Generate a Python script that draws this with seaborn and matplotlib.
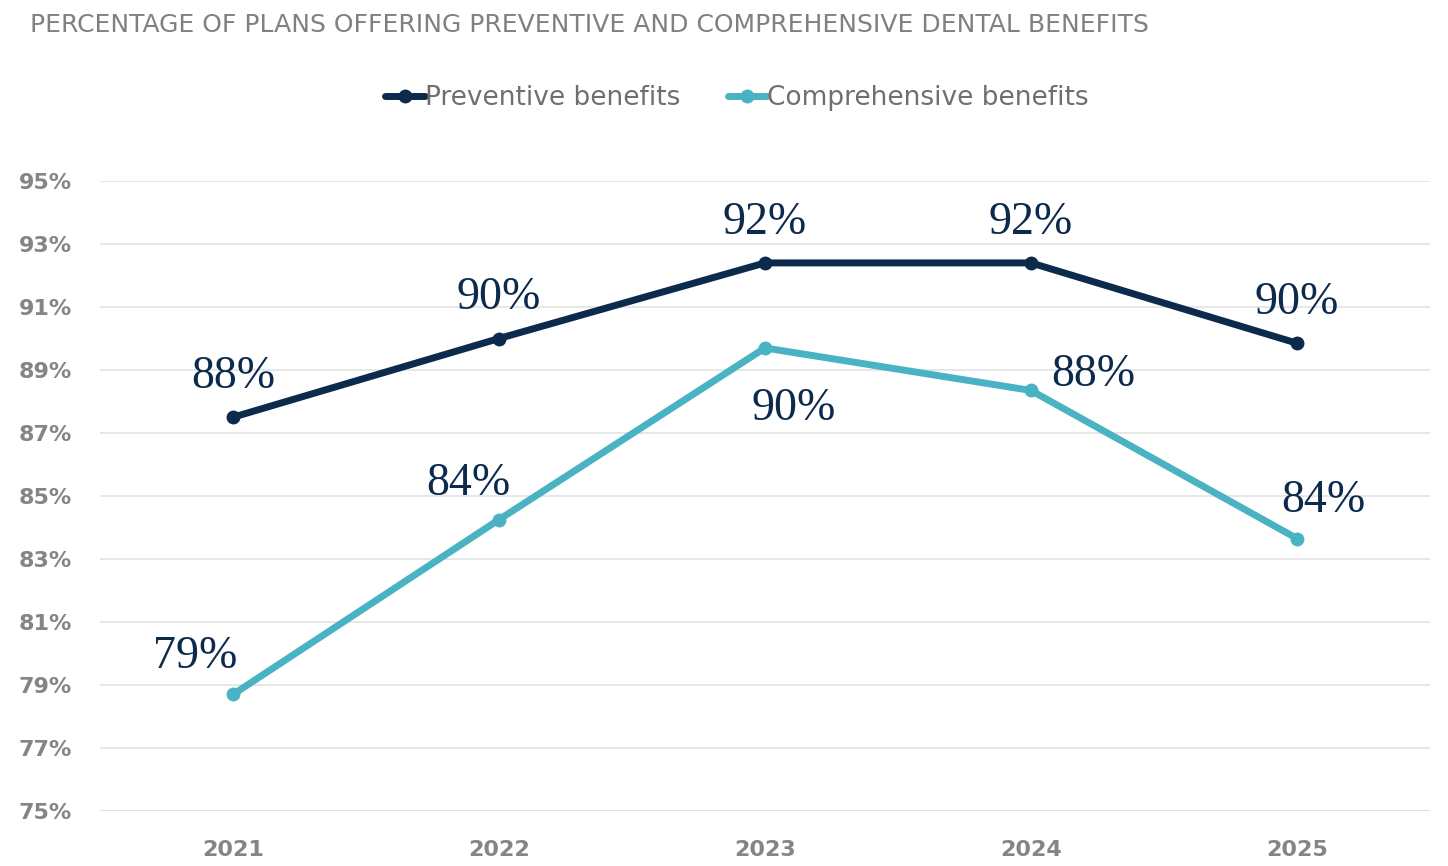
import pandas as pd
import seaborn as sns
import matplotlib.pyplot as plt
from matplotlib.lines import Line2D

# --- DATA ---
years = ["2021", "2022", "2023", "2024", "2025"]
preventive = [87.5, 90.0, 92.4, 92.4, 89.85]
comprehensive = [78.7, 84.25, 89.7, 88.35, 83.65]
preventive_labels = ["88%", "90%", "92%", "92%", "90%"]
comprehensive_labels = ["79%", "84%", "90%", "88%", "84%"]
series_names = ["Preventive benefits", "Comprehensive benefits"]
y_ticks = list(range(75, 96, 2))

NAVY = "#0b2a4c"
TEAL = "#49b3c3"
GRAY = "#808080"


def main():
    df = pd.DataFrame({
        "year": years * 2,
        "value": preventive + comprehensive,
        "series": [series_names[0]] * len(years) + [series_names[1]] * len(years),
    })

    sns.set_theme(style="white")
    plt.rcParams["font.family"] = ["DejaVu Sans"]

    fig = plt.figure(figsize=(14.48, 8.66), dpi=100)
    ax = fig.add_axes([100 / 1448, 1 - 811 / 866, 1330 / 1448, 630 / 866])

    sns.lineplot(
        data=df, x="year", y="value", hue="series",
        palette=[NAVY, TEAL], linewidth=5, marker="o", markersize=10,
        markeredgewidth=0, sort=False, legend=False, ax=ax,
    )

    ax.set_ylim(75, 95)
    ax.set_xlim(-0.5, len(years) - 0.5)
    ax.set_yticks(y_ticks)
    ax.set_yticklabels([f"{t}%" for t in y_ticks])
    ax.set_xlabel("")
    ax.set_ylabel("")
    ax.grid(axis="y", color="#e3e3e3", linewidth=1.2)
    ax.set_axisbelow(True)
    for s in ax.spines.values():
        s.set_visible(False)
    ax.axhline(75, color="#d6d6d6", linewidth=1.5, zorder=0)
    ax.tick_params(axis="both", length=0, labelsize=16, labelcolor="#858585")
    ax.tick_params(axis="y", pad=20)
    ax.tick_params(axis="x", pad=21)
    for lbl in ax.get_xticklabels() + ax.get_yticklabels():
        lbl.set_fontweight("bold")

    # value labels
    label_font = dict(family="Liberation Serif", fontsize=33, color=NAVY,
                      ha="center", va="center")
    for i, (v, t) in enumerate(zip(preventive, preventive_labels)):
        ax.annotate(t, (i, v), xytext=(0, 29), textcoords="offset points", **label_font)
    comp_offsets = [(-27, 27), (-22, 26), (21, -44), (45, 11), (19, 27)]
    for i, (v, t) in enumerate(zip(comprehensive, comprehensive_labels)):
        ax.annotate(t, (i, v), xytext=comp_offsets[i], textcoords="offset points", **label_font)

    # legend
    handles = [
        Line2D([], [], color=NAVY, linewidth=5, marker="o", markersize=10, markeredgewidth=0),
        Line2D([], [], color=TEAL, linewidth=5, marker="o", markersize=10, markeredgewidth=0),
    ]
    fig.legend(handles, series_names, loc="center", bbox_to_anchor=(737 / 1448, 1 - 98 / 866),
               ncol=2, frameon=False, handlelength=1.5, handletextpad=0.0, columnspacing=1.8,
               prop={"family": "DejaVu Sans", "size": 19}, labelcolor="#6f6f6f")

    fig.text(30 / 1448, 1 - 25 / 866,
             "PERCENTAGE OF PLANS OFFERING PREVENTIVE AND COMPREHENSIVE DENTAL BENEFITS",
             fontsize=18, color=GRAY, ha="left", va="center", family="DejaVu Sans")

    fig.savefig("out.png", dpi=100)


if __name__ == "__main__":
    main()
